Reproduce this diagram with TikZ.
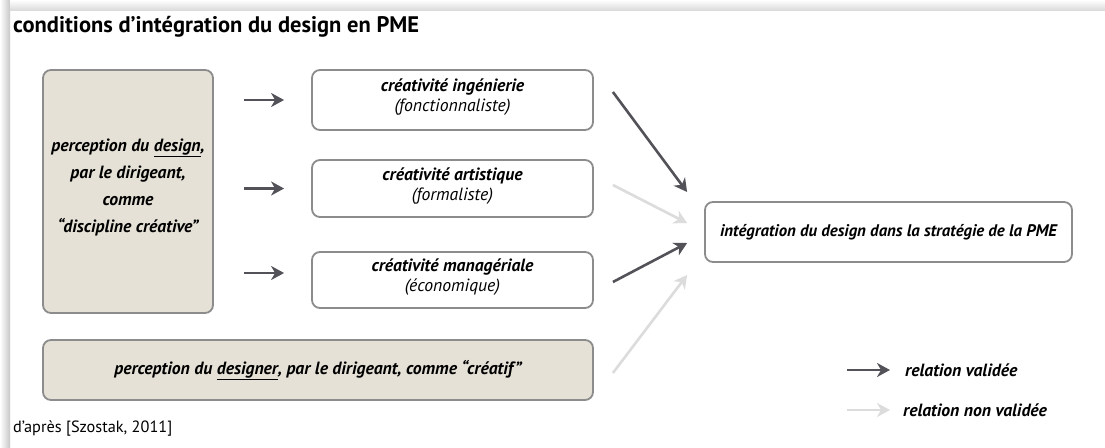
\documentclass[tikz,border=0pt]{standalone}
\usepackage{fontspec}
\setmainfont{PT Sans}
\usetikzlibrary{arrows.meta}
\definecolor{boxfill}{RGB}{229,225,214}
\definecolor{boxline}{RGB}{140,140,140}
\definecolor{darkarrow}{RGB}{82,82,88}
\definecolor{lightarrow}{RGB}{220,220,220}
\tikzset{
  box/.style={draw=boxline, line width=1.8pt, rounded corners=8pt, inner sep=0pt, align=center},
  beigebox/.style={box, fill=boxfill},
  whitebox/.style={box, fill=white},
  valid/.style={draw=darkarrow, line width=2.6pt, -{Stealth[length=13pt,width=14pt,inset=4pt]}},
  invalid/.style={valid, draw=lightarrow},
  bi/.style={font=\fontsize{17.7}{21}\selectfont\bfseries\itshape},
  twoline/.style={align=center, inner sep=0pt, font=\fontsize{17.7}{20}\selectfont},
}
\begin{document}
\begin{tikzpicture}[x=1pt,y=-1pt]
\useasboundingbox (0,0) rectangle (1105,447);
\fill[white] (0,0) rectangle (1105,447);
\shade[left color=white, right color=black!22] (0,0) rectangle (10,447);
\shade[top color=white, bottom color=black!14] (10,0) rectangle (1105,10);

\node[anchor=base west, inner sep=0pt, font=\fontsize{22.5}{26}\selectfont\bfseries] (title) at (13,32) {conditions d’intégration du design en PME};

\node[beigebox, minimum width=170pt, minimum height=243pt] (L) at (128,191.5) {};
\node[align=center, font=\fontsize{17.7}{27}\selectfont\bfseries\itshape] (Lt) at (128,187) {perception du \underline{design},\\par le dirigeant,\\comme\\“discipline créative”};

\node[whitebox, minimum width=281pt, minimum height=60pt] (C1) at (452.5,100) {};
\node[whitebox, minimum width=281pt, minimum height=57pt] (C2) at (452.5,188.5) {};
\node[whitebox, minimum width=281pt, minimum height=56pt] (C3) at (452.5,280) {};
\node[twoline] (C1t) at (452.5,97) {\bfseries\itshape créativité ingénierie\\\itshape (fonctionnaliste)};
\node[twoline] (C2t) at (452.5,186) {\bfseries\itshape créativité artistique\\\itshape (formaliste)};
\node[twoline] (C3t) at (452.5,277) {\bfseries\itshape créativité managériale\\\itshape (économique)};

\node[whitebox, minimum width=367pt, minimum height=60pt, font=\fontsize{16.8}{20}\selectfont\bfseries\itshape] (R) at (888.5,232) {intégration du design dans la stratégie de la PME};

\node[beigebox, minimum width=550pt, minimum height=60pt, bi] (B) at (318,370) {perception du \underline{designer}, par le dirigeant, comme “créatif”};

% small arrows
\coordinate (a1) at (C1.west);
\coordinate (a2) at (C2.west);
\coordinate (a3) at ([yshift=7pt]C3.west);
\foreach \a in {a1,a2,a3}
  \draw[valid, shorten <=30pt, shorten >=27pt] (L.east |- \a) -- (\a);

% diagonal arrows
\draw[valid]   ([xshift=19pt,yshift=8pt]C1.east) -- ([xshift=-17pt,yshift=40pt]R.west);
\draw[invalid] ([xshift=19pt,yshift=3.5pt]C2.east) -- ([xshift=-17pt,yshift=9pt]R.west);
\draw[valid]   ([xshift=19pt,yshift=-2pt]C3.east) -- ([xshift=-17pt,yshift=-11pt]R.west);
\draw[invalid] ([xshift=19pt,yshift=-3pt]B.east) -- ([xshift=-17pt,yshift=-43pt]R.west);

% legend
\node[anchor=west, inner sep=0pt, bi] (lv) at (905,370) {relation validée};
\node[anchor=west, inner sep=0pt, bi] (ln) at (903,410) {relation non validée};
\draw[valid]   ([xshift=-58pt]lv.west) -- ([xshift=-15pt]lv.west);
\draw[invalid] ([xshift=-56pt]ln.west) -- ([xshift=-13pt]ln.west);

\node[anchor=base west, inner sep=0pt, font=\fontsize{16.3}{20}\selectfont] (src) at (13,432) {d’après [Szostak, 2011]};
\end{tikzpicture}
\end{document}
